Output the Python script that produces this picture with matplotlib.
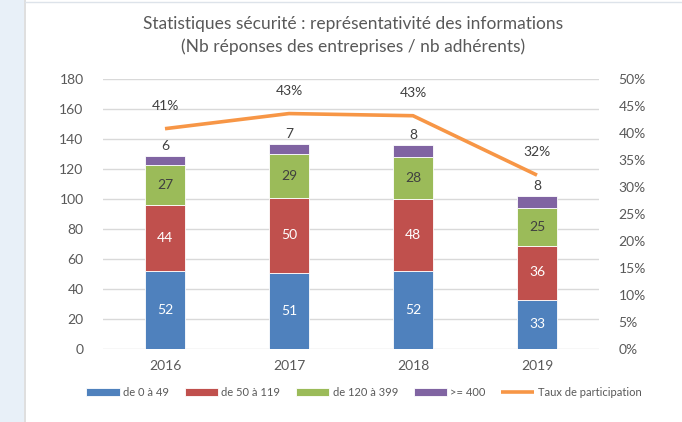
import numpy as np
import matplotlib.pyplot as plt
from matplotlib.patches import Rectangle
from matplotlib.lines import Line2D

plt.rcParams['font.family'] = ['Lato', 'DejaVu Sans']

# données
annees = ['2016', '2017', '2018', '2019']
de_0_49 = [52, 51, 52, 33]
de_50_119 = [44, 50, 48, 36]
de_120_399 = [27, 29, 28, 25]
plus_400 = [6, 7, 8, 8]
taux = [0.408, 0.436, 0.432, 0.322]
taux_labels = ['41%', '43%', '43%', '32%']

series = [
    (de_0_49, 'de 0 à 49', '#4F81BD', 'white'),
    (de_50_119, 'de 50 à 119', '#C0504D', 'white'),
    (de_120_399, 'de 120 à 399', '#9BBB59', '#404040'),
    (plus_400, '>= 400', '#8064A2', None),
]

txt = '#595959'
fig = plt.figure(figsize=(6.82, 4.22), dpi=100)
fig.patch.set_facecolor('white')
# bandeau bleu à gauche
fig.patches.append(Rectangle((0, 0), 24 / 682, 1, transform=fig.transFigure,
                             facecolor='#e8f0f8', edgecolor='none', zorder=0))
fig.add_artist(Line2D([25 / 682, 25 / 682], [0, 1], transform=fig.transFigure,
                      color='#d9d9d9', lw=1.2))
fig.add_artist(Line2D([25 / 682, 1], [1 - 2 / 422, 1 - 2 / 422], transform=fig.transFigure,
                      color='#dde3ea', lw=1))

ax = fig.add_axes([103 / 682, 1 - 349 / 422, 496 / 682, 270 / 422])
x = np.arange(len(annees))
width = 0.315
bottom = np.zeros(len(annees))
handles = []
for vals, lab, col, tcol in series:
    b = ax.bar(x, vals, width, bottom=bottom, color=col, edgecolor='white',
               linewidth=0.6, label=lab, zorder=3)
    handles.append(b)
    for i, v in enumerate(vals):
        if tcol is None:
            ax.text(x[i], bottom[i] + v + 2.5, str(v), ha='center', va='bottom',
                    fontsize=10, color='#404040', zorder=4)
        else:
            ax.text(x[i], bottom[i] + v / 2, str(v), ha='center', va='center',
                    fontsize=10, color=tcol, zorder=4)
    bottom += np.array(vals)

ax.set_xlim(-0.5, 3.5)
ax.set_ylim(0, 180)
ax.set_yticks(np.arange(0, 181, 20))
ax.set_xticks(x)
ax.set_xticklabels(annees)
ax.grid(axis='y', color='#d9d9d9', lw=1, zorder=0)
for s in ax.spines.values():
    s.set_visible(False)
ax.tick_params(length=0, labelsize=10, colors=txt, pad=8)
ax.tick_params(axis='y', pad=14)

ax2 = ax.twinx()
ln, = ax2.plot(x, taux, color='#F79646', lw=2.6, zorder=5,
               label='Taux de participation', solid_capstyle='butt')
for i, t in enumerate(taux_labels):
    ax2.annotate(t, (x[i], taux[i]), xytext=(0, 12), textcoords='offset points',
                 ha='center', va='bottom', fontsize=10, color='#404040')
ax2.set_ylim(0, 0.5)
ax2.set_yticks(np.arange(0, 0.51, 0.05))
ax2.set_yticklabels([f'{int(round(v * 100))}%' for v in np.arange(0, 0.51, 0.05)])
for s in ax2.spines.values():
    s.set_visible(False)
ax2.tick_params(length=0, labelsize=10, colors=txt, pad=14)

fig.text(353 / 682, 1 - 24 / 422, 'Statistiques sécurité : représentativité des informations',
         ha='center', va='center', fontsize=12.5, color=txt)
fig.text(353 / 682, 1 - 47 / 422, '(Nb réponses des entreprises / nb adhérents)',
         ha='center', va='center', fontsize=12.5, color=txt)

fig.legend(handles + [ln], [s[1] for s in series] + ['Taux de participation'],
           loc='center', bbox_to_anchor=(364 / 682, 1 - 392 / 422), ncol=5,
           frameon=False, fontsize=8, labelcolor=txt, handlelength=3.0,
           handletextpad=0.3, columnspacing=1.4)

fig.savefig('out.png', dpi=100)
